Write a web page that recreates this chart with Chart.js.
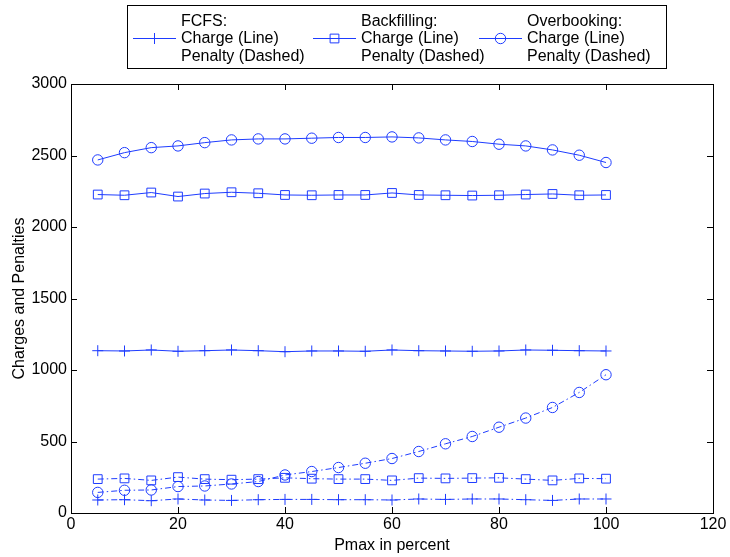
<!DOCTYPE html>
<html><head><meta charset="utf-8">
<script src="https://cdn.jsdelivr.net/npm/chart.js@4/dist/chart.umd.min.js"></script>
<style>html,body{margin:0;padding:0;background:#fff;}canvas{display:block;}</style>
</head><body>
<canvas id="c" width="730" height="557"></canvas>
<script>
const xValues = [5,10,15,20,25,30,35,40,45,50,55,60,65,70,75,80,85,90,95,100];
const fcfsCharge = [1135,1133,1140,1131,1135,1140,1135,1128,1133,1133,1131,1140,1135,1133,1131,1133,1140,1138,1135,1133];
const fcfsPenalty = [91,93,86,98,91,88,93,95,95,93,93,91,98,95,98,98,93,88,98,98];
const backCharge = [2227,2222,2241,2213,2234,2243,2236,2224,2222,2224,2224,2238,2224,2222,2220,2222,2227,2231,2222,2224];
const backPenalty = [237,242,228,251,237,233,237,246,240,237,237,228,244,242,244,246,237,228,242,240];
const overCharge = [2469,2520,2555,2567,2590,2609,2616,2616,2621,2626,2626,2630,2623,2609,2598,2579,2567,2539,2502,2451];
const overPenalty = [144,159,161,185,189,203,220,266,290,318,348,381,430,484,535,600,664,738,843,967];
const xTicks = [0,20,40,60,80,100,120];
const yTicks = [0,500,1000,1500,2000,2500,3000];
const legendTitles = ['FCFS:','Backfilling:','Overbooking:'];
const legendLines = ['Charge (Line)','Penalty (Dashed)'];

const BLUE = 'rgb(30,60,255)';
const FONT = '"Liberation Sans", Arial, Helvetica, sans-serif';
const FS = 16;
const DASH = [6,3,1.5,3];
const RADIUS = {cross: 5.5, rect: 6.2, circle: 5.2};
function ds(label, data, style, dashed) {
  return {
    label, data: xValues.map((x,i)=>({x, y:data[i]})),
    borderColor: BLUE, backgroundColor: 'rgba(0,0,0,0)',
    borderWidth: 1, borderDash: dashed ? DASH : [],
    pointStyle: style, pointRadius: RADIUS[style],
    pointBorderColor: BLUE, pointBackgroundColor: 'rgba(0,0,0,0)', pointBorderWidth: 1,
    tension: 0, fill: false
  };
}

const boxTicks = {
  id: 'boxTicks',
  afterDatasetsDraw(chart) {
    const {ctx, chartArea: a, scales} = chart;
    ctx.save();
    ctx.strokeStyle = '#000'; ctx.lineWidth = 1;
    ctx.strokeRect(Math.round(a.left)+0.5, Math.round(a.top)+0.5, Math.round(a.right-a.left), Math.round(a.bottom-a.top));
    const L = 6;
    ctx.beginPath();
    xTicks.forEach(v => {
      const px = Math.round(scales.x.getPixelForValue(v))+0.5;
      ctx.moveTo(px, a.bottom); ctx.lineTo(px, a.bottom - L);
      ctx.moveTo(px, a.top); ctx.lineTo(px, a.top + L);
    });
    yTicks.forEach(v => {
      const py = Math.round(scales.y.getPixelForValue(v))+0.5;
      ctx.moveTo(a.left, py); ctx.lineTo(a.left + L, py);
      ctx.moveTo(a.right, py); ctx.lineTo(a.right - L, py);
    });
    ctx.stroke();
    ctx.restore();
  },
  afterDraw(chart) {
    const ctx = chart.ctx;
    ctx.save();
    const bx = 127.5, by = 5.5, bw = 539, bh = 63;
    ctx.fillStyle = '#fff';
    ctx.fillRect(bx, by, bw, bh);
    ctx.strokeStyle = '#000'; ctx.lineWidth = 1;
    ctx.strokeRect(bx, by, bw, bh);
    const styles = ['cross','rect','circle'];
    const lineStarts = [133, 313, 479];
    const textStarts = [181, 361, 527];
    ctx.font = FS + 'px ' + FONT;
    ctx.textBaseline = 'middle';
    styles.forEach((st, i) => {
      const sx = lineStarts[i];
      ctx.strokeStyle = BLUE; ctx.lineWidth = 1;
      ctx.beginPath(); ctx.moveTo(sx, 38.5); ctx.lineTo(sx + 43, 38.5); ctx.stroke();
      ctx.fillStyle = 'rgba(0,0,0,0)';
      Chart.helpers.drawPoint(ctx, {pointStyle: st, radius: RADIUS[st], borderWidth: 1}, sx + 21.5, 38.5);
      ctx.fillStyle = '#000';
      ctx.fillText(legendTitles[i], textStarts[i], 21.5);
      ctx.fillText(legendLines[0], textStarts[i], 39);
      ctx.fillText(legendLines[1], textStarts[i], 56.5);
    });
    ctx.restore();
  }
};

new Chart(document.getElementById('c'), {
  type: 'line',
  data: { datasets: [
    ds('FCFS Charge', fcfsCharge, 'cross', false),
    ds('FCFS Penalty', fcfsPenalty, 'cross', true),
    ds('Backfilling Charge', backCharge, 'rect', false),
    ds('Backfilling Penalty', backPenalty, 'rect', true),
    ds('Overbooking Charge', overCharge, 'circle', false),
    ds('Overbooking Penalty', overPenalty, 'circle', true)
  ]},
  options: {
    responsive: false, animation: false, devicePixelRatio: 1,
    layout: { padding: { top: 84, right: 17, left: 0, bottom: 0 } },
    plugins: { legend: { display: false }, tooltip: { enabled: false } },
    scales: {
      x: {
        type: 'linear', min: 0, max: 120,
        afterBuildTicks: s => { s.ticks = xTicks.map(v => ({value: v})); },
        afterFit: s => { s.height = 44; },
        grid: { display: false, drawTicks: false },
        border: { display: false },
        ticks: { color: '#000', font: { family: FONT, size: FS }, padding: 2, maxRotation: 0, callback: v => String(v) },
        title: { display: true, text: 'Pmax in percent', color: '#000', font: { family: FONT, size: FS }, padding: { top: 0, bottom: 2 } }
      },
      y: {
        type: 'linear', min: 0, max: 3000,
        afterBuildTicks: s => { s.ticks = yTicks.map(v => ({value: v})); },
        afterFit: s => { s.width = 71; },
        grid: { display: false, drawTicks: false },
        border: { display: false },
        ticks: { color: '#000', font: { family: FONT, size: FS }, padding: 4, callback: v => String(v) },
        title: { display: true, text: 'Charges and Penalties', color: '#000', font: { family: FONT, size: FS }, padding: { top: 10, bottom: 0 } }
      }
    }
  },
  plugins: [boxTicks]
});
</script>
</body></html>
